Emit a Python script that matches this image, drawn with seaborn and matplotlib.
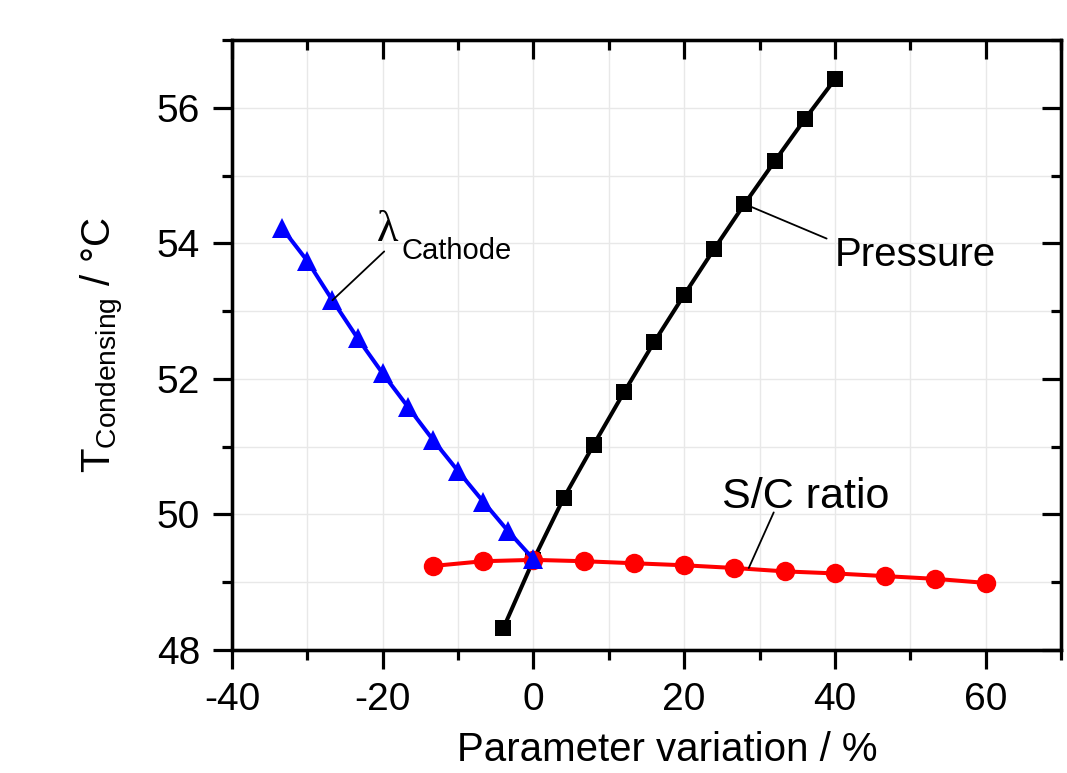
import numpy as np
import pandas as pd
import matplotlib
matplotlib.use("Agg")
import matplotlib.pyplot as plt
from matplotlib.ticker import MultipleLocator
import seaborn as sns

# ---- data ----
pressure_x = [-4, 0, 4, 8, 12, 16, 20, 24, 28, 32, 36, 40]
pressure_y = [48.32, 49.33, 50.24, 51.03, 51.80, 52.54, 53.24, 53.92, 54.58, 55.21, 55.83, 56.42]

sc_x = [-13.33, -6.67, 0, 6.67, 13.33, 20, 26.67, 33.33, 40, 46.67, 53.33, 60]
sc_y = [49.24, 49.31, 49.33, 49.31, 49.28, 49.25, 49.21, 49.16, 49.13, 49.09, 49.05, 48.99]

lam_x = [-33.33, -30, -26.67, -23.33, -20, -16.67, -13.33, -10, -6.67, -3.33, 0]
lam_y = [54.22, 53.74, 53.16, 52.60, 52.08, 51.59, 51.10, 50.64, 50.19, 49.75, 49.34]

x_label = "Parameter variation / %"
y_label = r"T$_{\mathrm{Condensing}}$ / °C"

sns.set_theme(style="white")
plt.rcParams["font.family"] = ["Liberation Sans", "DejaVu Sans"]
plt.rcParams["mathtext.fontset"] = "custom"
plt.rcParams["mathtext.rm"] = "Liberation Sans"
plt.rcParams["mathtext.it"] = "Liberation Sans:italic"
plt.rcParams["axes.unicode_minus"] = False
for k in ["text.color", "axes.labelcolor", "xtick.color", "ytick.color", "axes.edgecolor"]:
    plt.rcParams[k] = "black"

fig = plt.figure(figsize=(10.67, 7.73), dpi=100)
ax = fig.add_axes([0.2174, 0.1591, 0.9944 - 0.2174, 0.9483 - 0.1591])

df_p = pd.DataFrame({"x": pressure_x, "y": pressure_y})
df_s = pd.DataFrame({"x": sc_x, "y": sc_y})
df_l = pd.DataFrame({"x": lam_x, "y": lam_y})

sns.lineplot(data=df_p, x="x", y="y", ax=ax, color="black", linewidth=2.9,
             marker="s", markersize=11.5, markeredgewidth=0, zorder=3)
sns.lineplot(data=df_s, x="x", y="y", ax=ax, color="#ff0000", linewidth=2.9,
             marker="o", markersize=14, markeredgewidth=0, zorder=4)
sns.lineplot(data=df_l, x="x", y="y", ax=ax, color="#0000ff", linewidth=2.9,
             marker="^", markersize=14, markeredgewidth=0, zorder=5)

xlim = (-40, 70)
ylim = (48, 57)
ax.set_xlim(*xlim)
ax.set_ylim(*ylim)
ax.xaxis.set_major_locator(MultipleLocator(20))
ax.xaxis.set_minor_locator(MultipleLocator(10))
ax.yaxis.set_major_locator(MultipleLocator(2))
ax.yaxis.set_minor_locator(MultipleLocator(1))

ax.grid(True, which="both", color="#e8e8e8", lw=1.0, zorder=0)
ax.set_axisbelow(True)

for s in ax.spines.values():
    s.set_visible(True)
    s.set_color("black")
    s.set_linewidth(2.3)

ax.tick_params(which="both", direction="out", bottom=True, left=True,
               top=False, right=False, width=2.3, colors="black",
               labelsize=28, pad=9)
ax.tick_params(which="major", length=14)
ax.tick_params(which="minor", length=7)

# inward ticks on top and right via twin axes
axt = ax.twiny()
axt.set_xlim(*xlim)
axt.xaxis.set_major_locator(MultipleLocator(20))
axt.xaxis.set_minor_locator(MultipleLocator(10))
axt.tick_params(which="both", direction="in", width=2.3, top=True, bottom=False,
                labeltop=False, labelbottom=False)
axt.tick_params(which="major", length=14)
axt.tick_params(which="minor", length=7)
axt.grid(False)
axr = ax.twinx()
axr.set_ylim(*ylim)
axr.yaxis.set_major_locator(MultipleLocator(2))
axr.yaxis.set_minor_locator(MultipleLocator(1))
axr.tick_params(which="both", direction="in", width=2.3, right=True, left=False,
                labelright=False, labelleft=False)
axr.tick_params(which="major", length=14)
axr.tick_params(which="minor", length=7)
axr.grid(False)
for a in (axt, axr):
    for s in a.spines.values():
        s.set_linewidth(2.3)
        s.set_color("black")

ax.set_xlabel(x_label, fontsize=29)
ax.xaxis.set_label_coords(0.525, -0.132)
ax.set_ylabel(y_label, fontsize=29, labelpad=22)

# annotations
ax.annotate("", xy=(lam_x[2], lam_y[2]), xytext=(-19.8, 53.88),
            arrowprops=dict(arrowstyle="-", color="black", lw=1.3, shrinkA=0, shrinkB=0), zorder=6)
ax.text(-20.8, 54.04, "λ", fontsize=32, family=["Liberation Serif", "DejaVu Serif"],
        ha="left", va="baseline")
ax.text(-17.45, 53.77, "Cathode", fontsize=21, ha="left", va="baseline")

ax.annotate("", xy=(pressure_x[8], pressure_y[8]), xytext=(38.9, 54.07),
            arrowprops=dict(arrowstyle="-", color="black", lw=1.3, shrinkA=0, shrinkB=0), zorder=6)
ax.text(39.97, 53.67, "Pressure", fontsize=29, ha="left", va="baseline")

ax.annotate("", xy=(28.57, 49.21), xytext=(31.88, 50.03),
            arrowprops=dict(arrowstyle="-", color="black", lw=1.3, shrinkA=0, shrinkB=0), zorder=6)
ax.text(24.99, 50.09, "S/C ratio", fontsize=31, ha="left", va="baseline")

fig.savefig("out.png", dpi=100)
